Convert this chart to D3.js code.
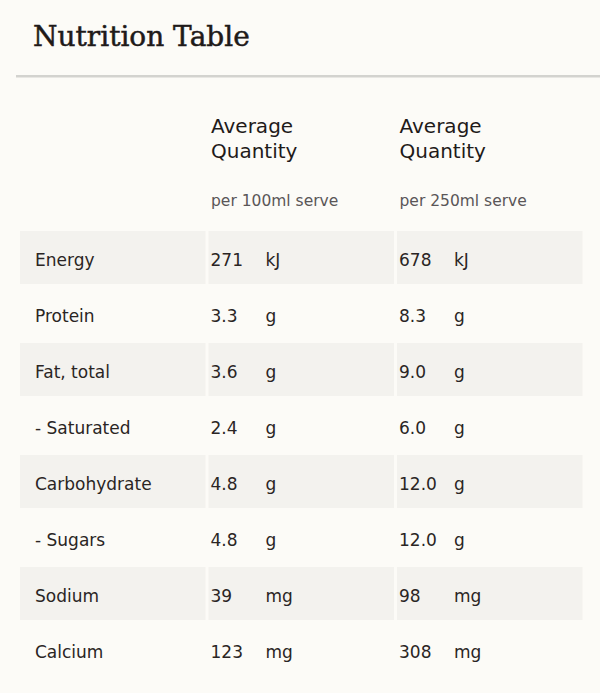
<!DOCTYPE html>
<html lang="en">
<head>
<meta charset="UTF-8">
<title>Nutrition Table</title>
<script src="https://d3js.org/d3.v7.min.js"></script>
<style>
  body { margin: 0; background: #fcfbf7; }
  svg { display: block; }
</style>
</head>
<body>
<script>
    // table content
    var nutrients = ["Energy", "Protein", "Fat, total", "- Saturated", "Carbohydrate", "- Sugars", "Sodium", "Calcium"];
    var per100 = [271, 3.3, 3.6, 2.4, 4.8, 4.8, 39, 123];
    var per250 = [678, 8.3, 9.0, 6.0, 12.0, 12.0, 98, 308];
    var units = ["kJ", "g", "g", "g", "g", "g", "mg", "mg"];
    var columns = ["label", "per100", "per250"];
    var headers = ["Average", "Quantity"];
    var serves = ["per 100ml serve", "per 250ml serve"];

    var width = 600,
        height = 693;

    var svg = d3.select("body").append("svg")
        .attr("width", width)
        .attr("height", height);

    svg.append("rect")
        .attr("width", width)
        .attr("height", height)
        .attr("fill", "#fcfbf7");

    // title + rule
    svg.append("text")
        .attr("x", 33)
        .attr("y", 46)
        .attr("fill", "#1f1a19")
        .attr("stroke", "#1f1a19")
        .attr("stroke-width", 0.5)
        .style("font-family", "'DejaVu Serif', serif")
        .style("font-size", "28px")
        .text("Nutrition Table");

    svg.append("line")
        .attr("x1", 16).attr("x2", width)
        .attr("y1", 76.3).attr("y2", 76.3)
        .attr("stroke", "#d3d3cf")
        .attr("stroke-width", 2.6);

    var x = d3.scaleBand()
        .domain(columns)
        .range([20, 582.5])
        .paddingInner(3 / 188.5);

    var y = d3.scaleBand()
        .domain(nutrients)
        .range([231, 231 + 56 * nutrients.length - 3])
        .paddingInner(3 / 56);

    var font = "'DejaVu Sans', sans-serif";

    // column headers
    var head = svg.append("g").attr("class", "headers")
        .selectAll("g")
        .data(serves)
        .enter()
        .append("g")
        .attr("transform", function (d, i) {
            return "translate(" + (x(columns[i + 1]) + 2.5) + ",0)";
        });

    head.selectAll("text.h")
        .data(headers)
        .enter()
        .append("text")
        .attr("class", "h")
        .attr("y", function (d, i) { return 133.3 + i * 25; })
        .attr("fill", "#1f1a19")
        .style("font-family", font)
        .style("font-size", "20px")
        .text(function (d) { return d; });

    head.append("text")
        .attr("y", 206)
        .attr("fill", "#5a5657")
        .style("font-family", font)
        .style("font-size", "15.5px")
        .text(function (d) { return d; });

    // body rows
    var fmt = function (v, u) {
        return u === "g" ? d3.format(".1f")(v) : d3.format("d")(v);
    };

    var rows = nutrients.map(function (n, i) {
        return { name: n, a: per100[i], b: per250[i], unit: units[i], i: i };
    });

    var row = svg.append("g").attr("class", "rows")
        .selectAll("g")
        .data(rows)
        .enter()
        .append("g")
        .attr("transform", function (d) { return "translate(0," + y(d.name) + ")"; });

    row.filter(function (d) { return d.i % 2 === 0; })
        .selectAll("rect")
        .data(columns)
        .enter()
        .append("rect")
        .attr("x", function (c) { return x(c); })
        .attr("width", x.bandwidth())
        .attr("height", y.bandwidth())
        .attr("fill", "#f3f2ee");

    var base = 34.7;

    row.append("text")
        .attr("x", x("label") + 15)
        .attr("y", base)
        .text(function (d) { return d.name; });

    ["per100", "per250"].forEach(function (c, k) {
        row.append("text")
            .attr("x", x(c) + 2)
            .attr("y", base)
            .text(function (d) { return fmt(k === 0 ? d.a : d.b, d.unit); });
        row.append("text")
            .attr("x", x(c) + 57)
            .attr("y", base)
            .text(function (d) { return d.unit; });
    });

    row.selectAll("text")
        .attr("fill", "#2a2524")
        .style("font-family", font)
        .style("font-size", "17px");
</script>
</body>
</html>
